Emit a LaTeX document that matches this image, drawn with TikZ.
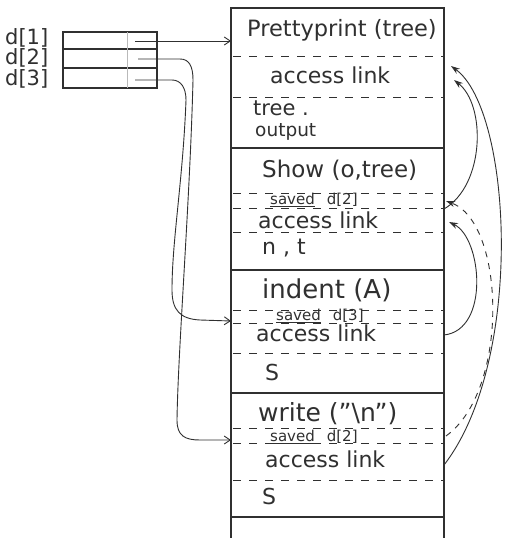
\documentclass[tikz,border=0pt]{standalone}
\usepackage{fontspec}
\setmainfont{DejaVu Sans}
\usetikzlibrary{arrows.meta}
\definecolor{inkc}{RGB}{48,48,48}
\definecolor{faint}{RGB}{185,185,185}
\begin{document}
\begin{tikzpicture}[x=1pt,y=-1pt,
  ink/.style={draw=inkc, line width=1.1pt},
  dline/.style={draw=inkc, line width=0.9pt, dash pattern=on 8pt off 8pt},
  txt/.style={text=inkc, inner sep=0pt, anchor=west},
  big/.style={txt, font=\fontsize{22}{24}\selectfont},
  lab/.style={txt, font=\fontsize{21}{23}\selectfont},
  small/.style={txt, font=\fontsize{15}{17}\selectfont},
  link/.style={draw=inkc, line width=0.9pt, -{Stealth[length=9pt,width=6pt]}},
  dlink/.style={link, dash pattern=on 6pt off 6pt},
  ptr/.style={draw=inkc, line width=0.9pt, -{Straight Barb[length=6pt,width=8pt]}},
]
\useasboundingbox (0,0) rectangle (507,538);
\fill[white] (0,0) rectangle (507,538);

% ---- display array ----
\draw[ink] (63,32) rectangle (157,88);
\draw[ink] (63,49) -- (157,49);
\draw[ink] (63,68) -- (157,68);
\draw[faint, line width=0.6pt] (127,32) -- (127,88);
\node[lab] (l1) at (5,38) {d[1]};
\node[lab] (l2) at (5,58) {d[2]};
\node[lab] (l3) at (5,79) {d[3]};

% ---- stack of activation records ----
\draw[ink] (231,538) -- (231,8) -- (444,8) -- (444,538);
\foreach \y in {148,270,393,517} \draw[ink] (231,\y) -- (444,\y);
\foreach \y in {56,97,193,208,232,310,323,353,428,443,480} \draw[dline] (233,\y) -- (444,\y);

\node[big, font=\fontsize{22.5}{25}\selectfont] (pp)  at (247,30)  {Prettyprint (tree)};
\node[big] (ppa) at (270,75)  {access link};
\node[txt, font=\fontsize{21}{23}\selectfont] (tr)  at (253,108) {tree .};
\node[txt, font=\fontsize{18.5}{20}\selectfont] (out) at (255,132) {output};

\node[big, font=\fontsize{23}{25}\selectfont] (sh)  at (262,170) {Show (o,tree)};
\node[small] (shs) at (270,200) {\underline{saved}\hspace{12pt}d[2]};
\node[big] (sha) at (258,220) {access link};
\node[big] (nt)  at (262,248) {n , t};

\node[big, font=\fontsize{26}{28}\selectfont] (in)  at (262,290) {indent (A)};
\node[small] (ins) at (276,316) {\underline{saved}\hspace{12pt}d[3]};
\node[big] (ina) at (256,333) {access link};
\node[big] (s1)  at (265,372) {S};

\node[big, font=\fontsize{25}{27}\selectfont] (wr)  at (258,414) {write ("\textbackslash n")};
\node[small] (wrs) at (270,437) {\underline{saved}\hspace{12pt}d[2]};
\node[big] (wra) at (265,459) {access link};
\node[big] (s2)  at (262,496) {S};

% ---- connector end points ----
\coordinate (d1s) at (135,41);
\coordinate (d2s) at (138,59);
\coordinate (d3s) at (135,80);
\coordinate (ppl) at (231,41);
\coordinate (inl) at (231,321);
\coordinate (wrl) at (231,440);

\coordinate (ppR)  at (451,66);
\coordinate (ppR2) at (454,80);
\coordinate (shR)  at (444,209);
\coordinate (shR2) at (449,222);
\coordinate (shS)  at (446,201);
\coordinate (inR)  at (444,335);
\coordinate (wrS)  at (446,436);
\coordinate (wrR)  at (444,465);

% ---- display pointers ----
\draw[ptr] (d1s) -- (ppl);
\draw[ptr] (d2s) -- (180,59) .. controls (189,59) and (193,66) .. (193,80)
  .. controls (190,200) and (178,350) .. (177,420)
  .. controls (177,436) and (185,440) .. (200,440) -- (wrl);
\draw[ptr] (d3s) -- (172,80) .. controls (181,80) and (186,88) .. (186,100)
  .. controls (183,180) and (172,240) .. (172,290)
  .. controls (172,310) and (180,319) .. (200,320) -- (inl);

% ---- access links and saved pointer ----
\draw[link] (shR) .. controls (485,185) and (486,105) .. (ppR2);
\draw[link] (inR) .. controls (490,330) and (482,238) .. (shR2);
\draw[link] (wrR) .. controls (525,360) and (512,110) .. (ppR);
\draw[dlink] (wrS) .. controls (510,390) and (505,222) .. (shS);
\end{tikzpicture}
\end{document}
